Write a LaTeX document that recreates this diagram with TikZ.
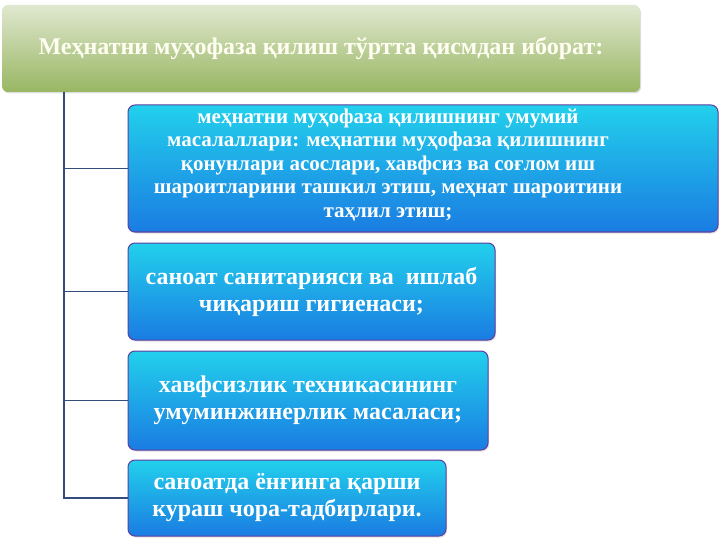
\documentclass[tikz,border=0pt]{standalone}
\usepackage{fontspec}
\setmainfont{Liberation Serif}
\usetikzlibrary{shadows}
\definecolor{TitleTop}{RGB}{224,232,208}
\definecolor{TitleBottom}{RGB}{152,182,98}
\definecolor{BoxTop}{RGB}{34,208,236}
\definecolor{BoxBottom}{RGB}{26,124,226}
\definecolor{BoxEdge}{RGB}{96,62,160}
\definecolor{TreeLine}{RGB}{52,76,122}

\tikzset{
  titlebox/.style={rounded corners=6pt, top color=TitleTop, bottom color=TitleBottom,
    drop shadow={opacity=0.25, shadow xshift=1pt, shadow yshift=-1.5pt}},
  bluebox/.style={rounded corners=7pt, top color=BoxTop, bottom color=BoxBottom,
    draw=BoxEdge, line width=1pt,
    drop shadow={opacity=0.25, shadow xshift=1pt, shadow yshift=-1.5pt}},
  boxtext/.style={text=white, align=center, inner sep=0pt, font=\bfseries\fontsize{24}{27}\selectfont},
  tree/.style={draw=TreeLine, line width=1.3pt},
}

\begin{document}
\begin{tikzpicture}[x=1pt, y=-1pt]
  \useasboundingbox (0,0) rectangle (720,540);

  % Title
  \node[titlebox, minimum width=638pt, minimum height=87pt, text=white!95!yellow,
    font=\bfseries\fontsize{24}{28}\selectfont] (title) at (321,48.5)
    {Меҳнатни муҳофаза қилиш тўртта қисмдан иборат:};

  % Parts
  \node[bluebox, minimum width=590pt, minimum height=127pt] (b1) at (423,168.5) {};
  \node[boxtext, font=\bfseries\fontsize{21}{23.5}\selectfont] (t1) at (388,165)
    {меҳнатни муҳофаза қилишнинг умумий\\масалаллари: меҳнатни муҳофаза қилишнинг\\қонунлари асослари, хавфсиз ва соғлом иш\\шароитларини ташкил этиш, меҳнат шароитини\\таҳлил этиш;};
  \node[bluebox, boxtext, minimum width=367pt, minimum height=97pt] (b2) at (311.5,291.5)
    {саноат санитарияси ва\ \ ишлаб\\чиқариш гигиенаси;};
  \node[bluebox, boxtext, minimum width=360pt, minimum height=99pt] (b3) at (308,400.5)
    {хавфсизлик техникасининг\\умуминжинерлик масаласи;};
  \node[bluebox, boxtext, minimum width=318pt, minimum height=76pt] (b4) at (287,498)
    {саноатда ёнғинга қарши\\кураш чора-тадбирлари.};

  % Tree lines
  \coordinate (trunk) at (64,92);
  \draw[tree] (trunk) |- (b1.west);
  \draw[tree] (trunk) |- (b2.west);
  \draw[tree] (trunk) |- (b3.west);
  \draw[tree] (trunk) |- (b4.west);
\end{tikzpicture}
\end{document}
